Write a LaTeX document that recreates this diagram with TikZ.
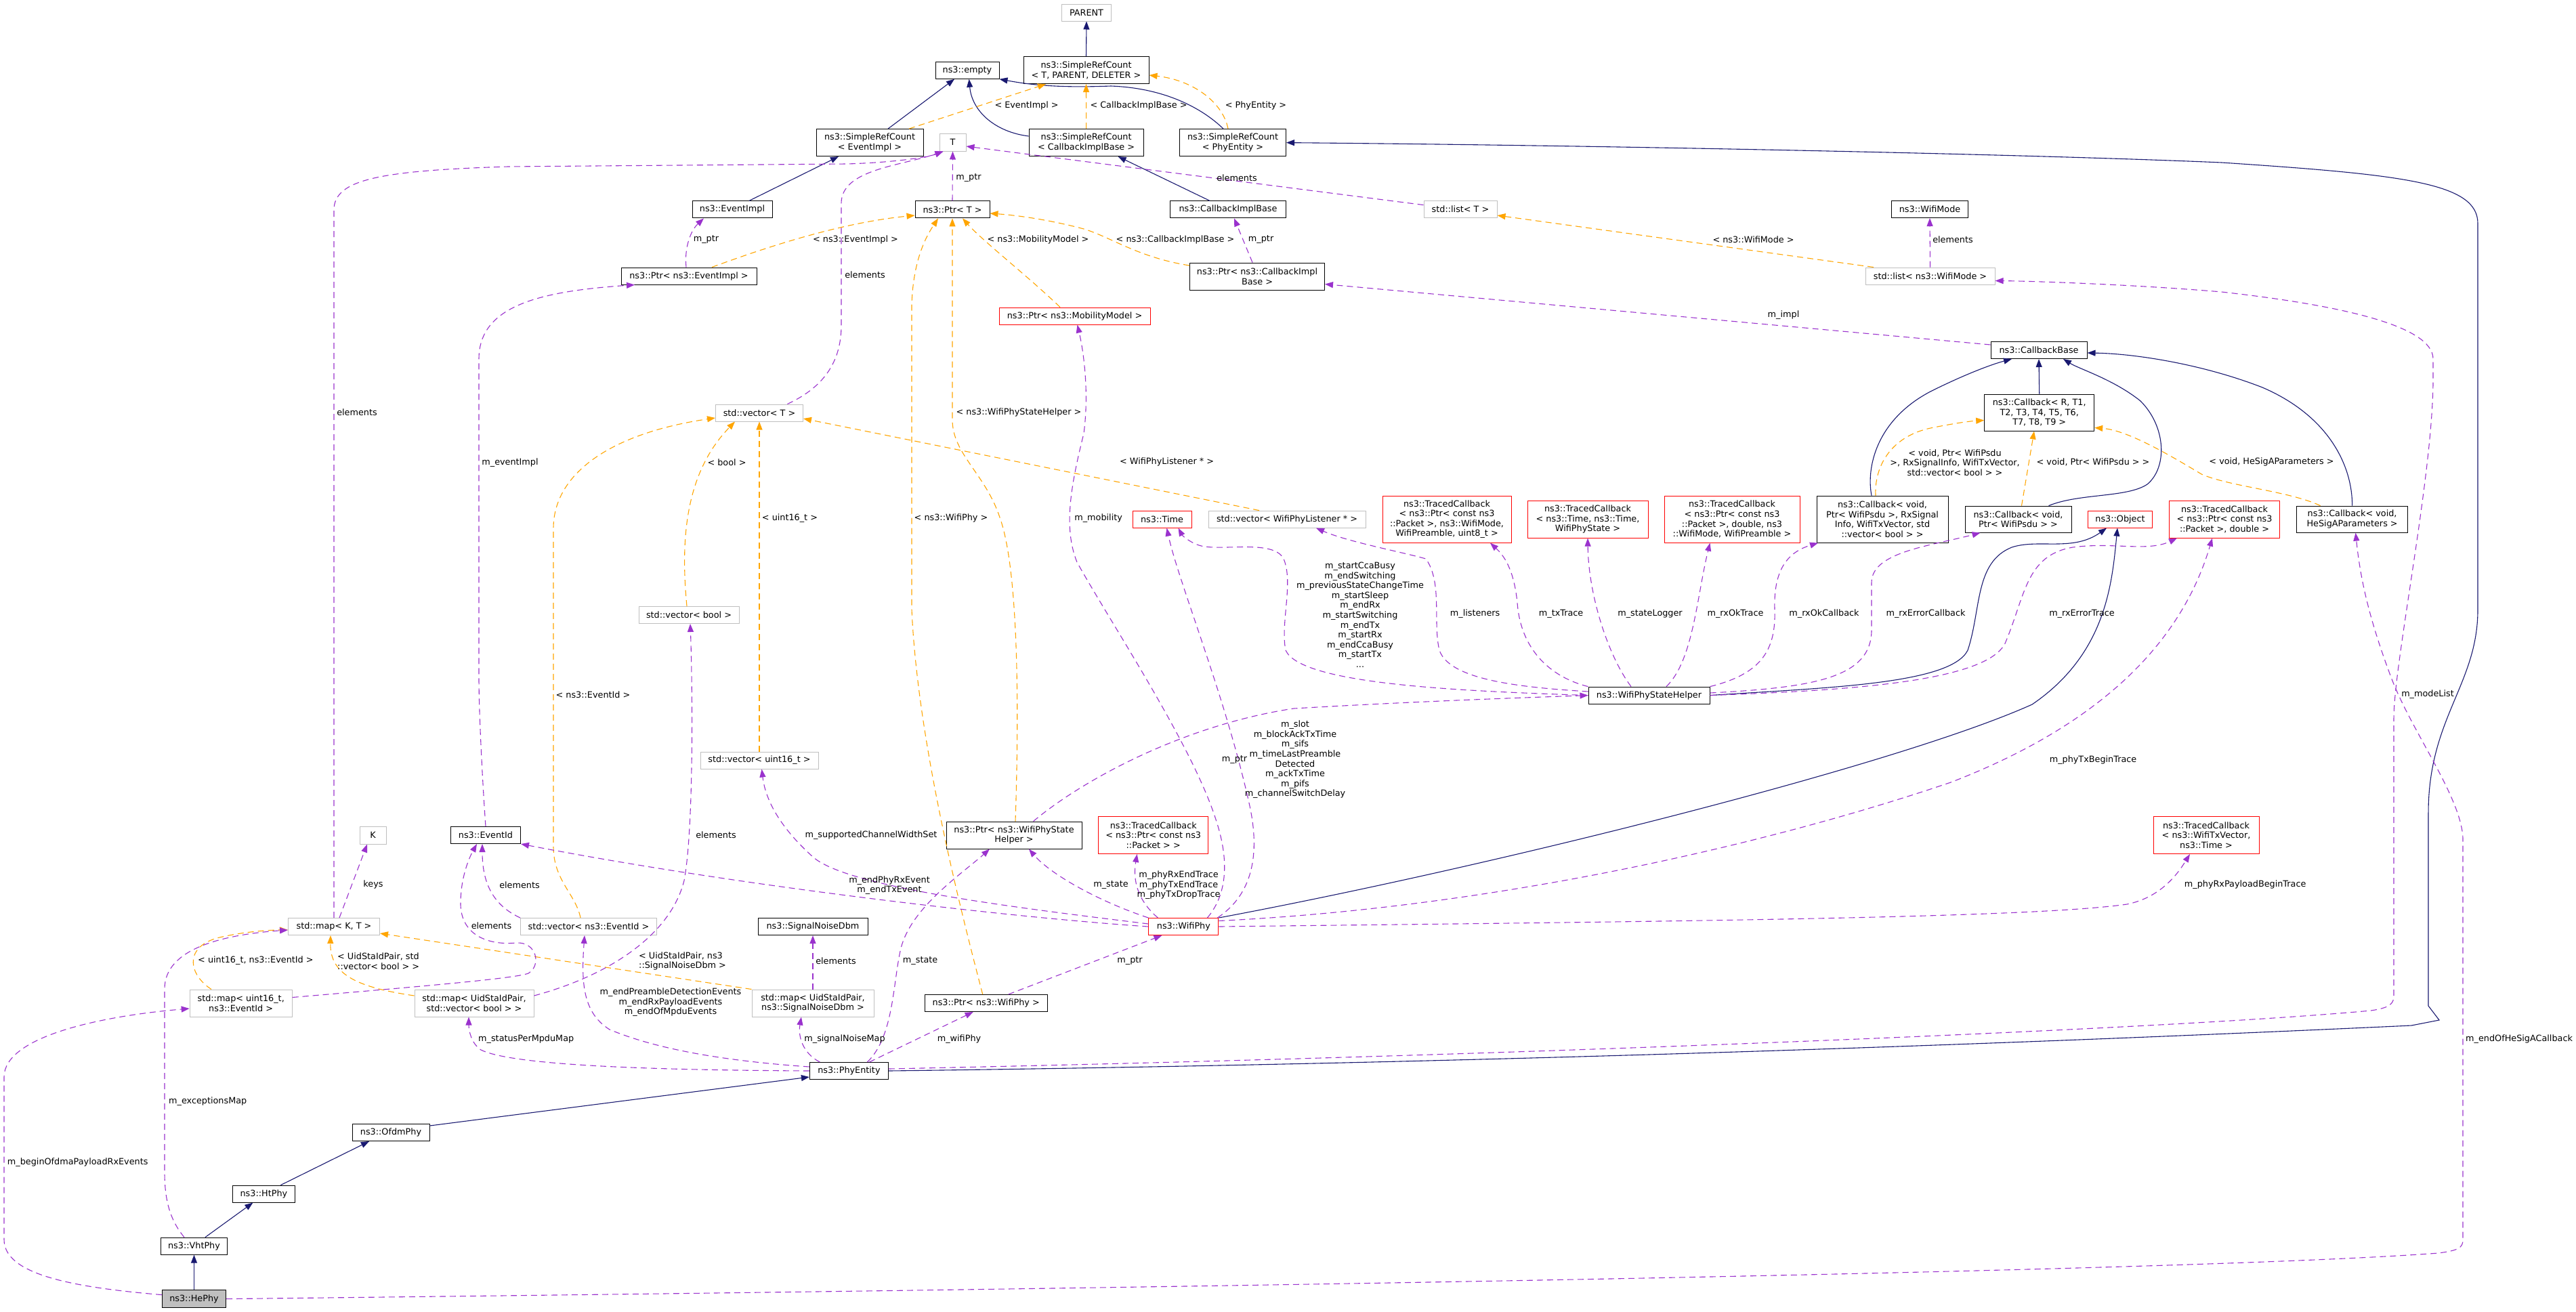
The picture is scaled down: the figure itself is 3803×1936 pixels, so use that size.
\documentclass[tikz,border=0pt]{standalone}
\usepackage{fontspec}
\setmainfont{DejaVu Sans}
\usetikzlibrary{arrows.meta}
\definecolor{inhc}{HTML}{191970}
\definecolor{usec}{HTML}{9A32CD}
\definecolor{tmplc}{HTML}{FFA500}
\definecolor{greyb}{HTML}{BFBFBF}
\definecolor{redb}{HTML}{FF0000}
\newcommand{\dfont}{\fontsize{12.8}{14.6}\selectfont}
\begin{document}
\begin{tikzpicture}[x=1pt,y=-1pt,
 box/.style={draw=black, line width=1pt, inner sep=0pt, align=center, font=\dfont, fill=white},
 ext/.style={box, draw=greyb},
 rbox/.style={box, draw=redb},
 inh/.style={draw=inhc, line width=1.1pt, -{Triangle[length=12pt,width=9pt]}},
 use/.style={draw=usec, line width=1.1pt, dash pattern=on 9pt off 6pt, -{Triangle[length=12pt,width=9pt]}},
 tmpl/.style={draw=tmplc, line width=1.1pt, dash pattern=on 9pt off 6pt, -{Triangle[length=12pt,width=9pt]}},
 lbl/.style={inner sep=0pt, align=center, font=\dfont}
]
\useasboundingbox (0,0) rectangle (3803,1936);
% ---------------- nodes
\node[ext, minimum width=73pt, minimum height=25pt] (parent) at (1604,18.5) {PARENT};
\node[box, minimum width=185pt, minimum height=40pt] (srcT) at (1603.5,103.6) {ns3::SimpleRefCount\\< T, PARENT, DELETER >};
\node[box, minimum width=94pt, minimum height=25pt] (empty) at (1428,103.8) {ns3::empty};
\node[box, minimum width=158pt, minimum height=40pt] (srcEv) at (1284,210.6) {ns3::SimpleRefCount\\< EventImpl >};
\node[ext, minimum width=39pt, minimum height=26pt] (T) at (1406.5,210) {T};
\node[box, minimum width=169pt, minimum height=40pt] (srcCb) at (1603.6,210.6) {ns3::SimpleRefCount\\< CallbackImplBase >};
\node[box, minimum width=157pt, minimum height=40pt] (srcPhy) at (1820,210.6) {ns3::SimpleRefCount\\< PhyEntity >};
\node[box, minimum width=118pt, minimum height=25pt] (evImpl) at (1081,309.4) {ns3::EventImpl};
\node[box, minimum width=110pt, minimum height=25pt] (ptrT) at (1406,309.4) {ns3::Ptr< T >};
\node[box, minimum width=171pt, minimum height=25pt] (cbImplBase) at (1813,309.4) {ns3::CallbackImplBase};
\node[ext, minimum width=108pt, minimum height=25pt] (listT) at (2156,309) {std::list< T >};
\node[box, minimum width=113pt, minimum height=25pt] (wifiMode) at (2849,309) {ns3::WifiMode};
\node[box, minimum width=200pt, minimum height=25pt] (ptrEv) at (1017,407.5) {ns3::Ptr< ns3::EventImpl >};
\node[box, minimum width=199pt, minimum height=40pt] (ptrCb) at (1856,408) {ns3::Ptr< ns3::CallbackImpl\\Base >};
\node[ext, minimum width=191pt, minimum height=25pt] (listWm) at (2849.5,407.5) {std::list< ns3::WifiMode >};
\node[rbox, minimum width=223pt, minimum height=25pt] (ptrMob) at (1586.5,466.5) {ns3::Ptr< ns3::MobilityModel >};
\node[box, minimum width=142pt, minimum height=25pt] (cbBase) at (3010,517) {ns3::CallbackBase};
\node[ext, minimum width=129pt, minimum height=25pt] (vecT) at (1121,609.5) {std::vector< T >};
\node[box, minimum width=162pt, minimum height=54pt] (cbGen) at (3010.7,609) {ns3::Callback< R, T1,\\T2, T3, T4, T5, T6,\\T7, T8, T9 >};
\node[rbox, minimum width=87pt, minimum height=25pt] (time) at (1715.5,766.6) {ns3::Time};
\node[ext, minimum width=232pt, minimum height=25pt] (vecListener) at (1900,766.6) {std::vector< WifiPhyListener * >};
\node[rbox, minimum width=190pt, minimum height=69pt] (tcTx) at (2136,766.6) {ns3::TracedCallback\\< ns3::Ptr< const ns3\\::Packet >, ns3::WifiMode,\\WifiPreamble, uint8\_t >};
\node[rbox, minimum width=178pt, minimum height=55pt] (tcState) at (2344,766.6) {ns3::TracedCallback\\< ns3::Time, ns3::Time,\\WifiPhyState >};
\node[rbox, minimum width=200pt, minimum height=69pt] (tcRxOk) at (2557,766.6) {ns3::TracedCallback\\< ns3::Ptr< const ns3\\::Packet >, double, ns3\\::WifiMode, WifiPreamble >};
\node[box, minimum width=194pt, minimum height=69pt] (cbRxOk) at (2779,766.6) {ns3::Callback< void,\\Ptr< WifiPsdu >, RxSignal\\Info, WifiTxVector, std\\::vector< bool > >};
\node[box, minimum width=157pt, minimum height=39pt] (cbRxErr) at (2979.5,766.6) {ns3::Callback< void,\\Ptr< WifiPsdu > >};
\node[rbox, minimum width=95.5pt, minimum height=25pt] (object) at (3130,766.6) {ns3::Object};
\node[rbox, minimum width=163pt, minimum height=55pt] (tcRxErr) at (3284,766.6) {ns3::TracedCallback\\< ns3::Ptr< const ns3\\::Packet >, double >};
\node[box, minimum width=164pt, minimum height=39pt] (cbHeSig) at (3472.6,766.6) {ns3::Callback< void,\\HeSigAParameters >};
\node[ext, minimum width=148pt, minimum height=25pt] (vecBool) at (1017,908) {std::vector< bool >};
\node[box, minimum width=179pt, minimum height=25pt] (wsh) at (2434.5,1026.6) {ns3::WifiPhyStateHelper};
\node[ext, minimum width=174pt, minimum height=25pt] (vecU16) at (1121,1122.5) {std::vector< uint16\_t >};
\node[ext, minimum width=39pt, minimum height=26pt] (K) at (550.5,1233) {K};
\node[box, minimum width=103pt, minimum height=25pt] (eventId) at (717,1233) {ns3::EventId};
\node[box, minimum width=200pt, minimum height=40pt] (ptrWsh) at (1497,1233) {ns3::Ptr< ns3::WifiPhyState\\Helper >};
\node[rbox, minimum width=162pt, minimum height=55pt] (tcPkt) at (1702.7,1233) {ns3::TracedCallback\\< ns3::Ptr< const ns3\\::Packet > >};
\node[rbox, minimum width=156pt, minimum height=55pt] (tcTxVec) at (3257,1233) {ns3::TracedCallback\\< ns3::WifiTxVector,\\ns3::Time >};
\node[ext, minimum width=135pt, minimum height=25pt] (mapKT) at (493,1368) {std::map< K, T >};
\node[ext, minimum width=201pt, minimum height=25pt] (vecEvId) at (869,1368) {std::vector< ns3::EventId >};
\node[box, minimum width=162pt, minimum height=25pt] (snDbm) at (1200,1368) {ns3::SignalNoiseDbm};
\node[rbox, minimum width=103pt, minimum height=25pt] (wifiPhy) at (1747.4,1368) {ns3::WifiPhy};
\node[ext, minimum width=151pt, minimum height=40pt] (mapU16) at (355.7,1481) {std::map< uint16\_t,\\ns3::EventId >};
\node[ext, minimum width=176pt, minimum height=40pt] (mapStatus) at (700,1481) {std::map< UidStaIdPair,\\std::vector< bool > >};
\node[ext, minimum width=180pt, minimum height=40pt] (mapSn) at (1200,1481) {std::map< UidStaIdPair,\\ns3::SignalNoiseDbm >};
\node[box, minimum width=181pt, minimum height=25pt] (ptrWifiPhy) at (1455.7,1481) {ns3::Ptr< ns3::WifiPhy >};
\node[box, minimum width=116pt, minimum height=25pt] (phyEntity) at (1253.4,1581) {ns3::PhyEntity};
\node[box, minimum width=114pt, minimum height=25pt] (ofdm) at (577,1672) {ns3::OfdmPhy};
\node[box, minimum width=92pt, minimum height=25pt] (ht) at (389.4,1762.6) {ns3::HtPhy};
\node[box, minimum width=98pt, minimum height=25pt] (vht) at (286.5,1839.6) {ns3::VhtPhy};
\node[box, fill=greyb, minimum width=94pt, minimum height=26pt] (he) at (286.5,1917.6) {ns3::HePhy};
% ---------------- inheritance
\draw[inh] (srcT.north) -- (parent.south);
\draw[inh] ([xshift=27pt]srcEv.north) -- ([xshift=-19pt]empty.south);
\draw[inh] ([yshift=9.6pt]srcCb.west) .. controls (1470,195) and (1435,165) .. ([xshift=2.6pt]empty.south);
\draw[inh] ([xshift=-14pt]srcPhy.north) .. controls (1775,160) and (1720,130) .. (1640,127) .. controls (1560,130) and (1520,125) .. (empty.south east);
\draw[inh] ([xshift=25pt]evImpl.north) -- ([xshift=-46pt]srcEv.south);
\draw[inh] ([xshift=-27pt]cbImplBase.north) -- ([xshift=47pt]srcCb.south);
\draw[inh] (phyEntity.east) .. controls (2200,1570) and (3000,1540) .. (3560,1514) -- (3601,1506) -- (3585,1485) -- (3585,1200) .. controls (3585,1060) and (3658,1010) .. (3658,900) -- (3658,330) .. controls (3658,270) and (3550,258) .. (3280,240) .. controls (3000,228) and (2400,215) .. (srcPhy.east);
\draw[inh] ([yshift=10pt]ofdm.east) -- ([yshift=-9pt]phyEntity.west);
\draw[inh] ([xshift=25pt]ht.north) -- ([xshift=-32pt]ofdm.south);
\draw[inh] ([xshift=16.5pt]vht.north) -- ([xshift=-16pt]ht.south);
\draw[inh] (he.north) -- (vht.south);
\draw[inh] (wifiPhy.north east) .. controls (2200,1280) and (2800,1130) .. (3000,1040) .. controls (3110,965) and (3118,860) .. ([xshift=-4pt]object.south);
\draw[inh] (wsh.east) .. controls (2700,1015) and (2880,1010) .. (2905,960) .. controls (2925,900) and (2915,830) .. (2970,808) .. controls (3010,795) and (3060,815) .. ([xshift=-20pt]object.south);
\draw[inh] ([xshift=45pt]cbRxErr.north) .. controls (3070,728) and (3140,735) .. (3170,715) .. controls (3200,690) and (3198,630) .. (3160,592) .. controls (3120,560) and (3070,545) .. ([xshift=36pt]cbBase.south);
\draw[inh] (cbHeSig.north) .. controls (3473,690) and (3440,615) .. (3340,572) .. controls (3250,537) and (3150,522) .. ([yshift=-4pt]cbBase.east);
\draw[inh] (cbGen.north) -- (cbBase.south);
\draw[inh] ([xshift=-16pt]cbRxOk.north) .. controls (2755,690) and (2770,620) .. (2850,578) .. controls (2900,553) and (2940,538) .. ([xshift=-40pt]cbBase.south);
% ---------------- templates
\draw[tmpl] ([xshift=58pt]srcEv.north) -- ([xshift=-59.5pt]srcT.south);
\draw[tmpl] (srcCb.north) -- (srcT.south);
\draw[tmpl] ([xshift=-7pt]srcPhy.north) .. controls (1805,150) and (1760,118) .. ([yshift=-7.4pt]srcT.east);
\draw[tmpl] ([xshift=34pt]ptrEv.north) .. controls (1150,358) and (1250,328) .. ([yshift=-8.6pt]ptrT.west);
\draw[tmpl] ([yshift=16pt]ptrCb.west) .. controls (1680,380) and (1640,350) .. (1600,338) .. controls (1540,322) and (1490,317) .. ([yshift=-5.6pt]ptrT.east);
\draw[tmpl] ([xshift=-21.5pt]ptrMob.north) .. controls (1520,410) and (1450,355) .. ([xshift=15pt]ptrT.south);
\draw[tmpl] ([xshift=2pt]ptrWsh.north) .. controls (1506,1000) and (1500,830) .. (1476,764) .. controls (1455,700) and (1406,670) .. (1406,620) -- (ptrT.south);
\draw[tmpl] ([xshift=-5pt]ptrWifiPhy.north) .. controls (1420,1350) and (1355,1100) .. (1346,900) -- (1346,450) .. controls (1348,380) and (1370,345) .. ([xshift=-21pt]ptrT.south);
\draw[tmpl] ([xshift=-41pt]vecListener.north) -- ([yshift=-8.5pt]vecT.east);
\draw[tmpl] ([xshift=-3pt]vecBool.north) .. controls (1005,800) and (1010,700) .. ([xshift=-36pt]vecT.south);
\draw[tmpl] (vecU16.north) -- (vecT.south);
\draw[tmpl] ([xshift=-12pt]vecEvId.north) .. controls (850,1320) and (817,1300) .. (817,1250) -- (817,780) .. controls (817,700) and (900,640) .. ([yshift=-7.5pt]vecT.west);
\draw[tmpl] ([xshift=-43.7pt]mapU16.north) .. controls (280,1440) and (270,1400) .. (320,1385) .. controls (360,1375) and (400,1373) .. ([yshift=-5pt]mapKT.west);
\draw[tmpl] ([yshift=11pt]mapStatus.west) .. controls (530,1458) and (487,1440) .. ([xshift=-5pt]mapKT.south);
\draw[tmpl] (mapSn.north west) -- ([yshift=-10pt]mapKT.east);
\draw[tmpl] ([xshift=-83.5pt]listWm.north) -- ([yshift=-9pt]listT.east);
\draw[tmpl] ([xshift=-10pt]cbRxOk.north) .. controls (2767,690) and (2790,645) .. (2850,632) .. controls (2880,626) and (2905,622) .. ([yshift=-11.5pt]cbGen.west);
\draw[tmpl] ([xshift=5pt]cbRxErr.north) -- ([xshift=-7.7pt]cbGen.south);
\draw[tmpl] ([xshift=-47pt]cbHeSig.north) .. controls (3380,725) and (3290,718) .. (3250,700) .. controls (3200,670) and (3140,635) .. ([yshift=5pt]cbGen.south east);
% ---------------- usage
\draw[use] (ptrT.north) -- (T.south);
\draw[use] ([xshift=-4pt]ptrEv.north) .. controls (1010,365) and (1020,340) .. ([xshift=-42pt]evImpl.south);
\draw[use] ([xshift=-7pt]ptrCb.north) -- ([xshift=9pt]cbImplBase.south);
\draw[use] ([xshift=41.4pt]vecT.north) .. controls (1220,570) and (1242,530) .. (1242,480) -- (1242,300) .. controls (1242,250) and (1330,245) .. ([xshift=-14pt]T.south);
\draw[use] ([yshift=6.4pt]listT.west) -- ([yshift=-6pt]T.east);
\draw[use] (listWm.north) -- (wifiMode.south);
\draw[use] (mapKT.north) -- (493,310) .. controls (493,265) and (560,252) .. (750,246) -- (1250,242) .. controls (1320,240) and (1370,232) .. ([xshift=-14pt]T.south);
\draw[use] ([xshift=8pt]mapKT.north) -- ([xshift=-8.5pt]K.south);
\draw[use] ([yshift=8.5pt]mapU16.east) .. controls (600,1458) and (760,1445) .. (780,1437) .. controls (800,1425) and (792,1390) .. (762,1392) .. controls (720,1396) and (678,1380) .. (680,1330) .. controls (681,1290) and (695,1262) .. ([xshift=-13pt]eventId.south);
\draw[use] (vecEvId.north west) .. controls (725,1335) and (712,1300) .. ([xshift=-5pt]eventId.south);
\draw[use] ([yshift=11pt]mapStatus.east) .. controls (900,1440) and (990,1380) .. (1010,1300) .. controls (1025,1220) and (1022,1000) .. ([xshift=2pt]vecBool.south);
\draw[use] (eventId.north) .. controls (712,1150) and (707,1050) .. (707,1000) -- (707,530) .. controls (707,450) and (800,430) .. ([xshift=-80pt]ptrEv.south);
\draw[use] (mapSn.north) -- (snDbm.south);
\draw[use] ([xshift=-43pt]phyEntity.north) .. controls (1185,1555) and (1178,1530) .. ([xshift=-17pt]mapSn.south);
\draw[use] ([xshift=30pt]phyEntity.north) -- ([xshift=-19pt]ptrWifiPhy.south);
\draw[use] ([xshift=27pt]phyEntity.north) .. controls (1320,1530) and (1318,1450) .. (1330,1400) .. controls (1345,1340) and (1420,1290) .. ([xshift=-36pt]ptrWsh.south);
\draw[use] (phyEntity.west) .. controls (1000,1580) and (760,1575) .. (710,1550) .. controls (695,1540) and (692,1520) .. ([xshift=-8pt]mapStatus.south);
\draw[use] ([yshift=6pt]phyEntity.west) .. controls (1050,1565) and (960,1545) .. (900,1520) .. controls (860,1495) and (858,1450) .. ([xshift=-6pt]vecEvId.south);
\draw[use] ([yshift=6pt]he.west) .. controls (100,1900) and (6,1880) .. (6,1830) -- (6,1590) .. controls (6,1530) and (150,1500) .. ([yshift=-8pt]mapU16.west);
\draw[use] ([xshift=-14.5pt]vht.north) .. controls (250,1800) and (243,1770) .. (243,1730) -- (243,1460) .. controls (243,1400) and (330,1380) .. ([yshift=-5pt]mapKT.west);
\draw[use] ([yshift=4pt]wifiPhy.west) .. controls (1500,1340) and (1250,1310) .. (1200,1265) .. controls (1150,1220) and (1130,1180) .. ([xshift=3.5pt]vecU16.south);
\draw[use] (wifiPhy.west) .. controls (1500,1355) and (1100,1310) .. (eventId.south east);
\draw[use] (wifiPhy.north west) .. controls (1620,1330) and (1550,1290) .. ([xshift=22pt]ptrWsh.south);
\draw[use] ([xshift=-38pt]wifiPhy.north) .. controls (1680,1330) and (1672,1300) .. ([xshift=-24pt]tcPkt.south);
\draw[use] ([xshift=-2pt]wifiPhy.north east) .. controls (1850,1320) and (1860,1260) .. (1845,1190) .. controls (1810,1030) and (1740,860) .. ([xshift=7pt]time.south);
\draw[use] ([xshift=35pt]wifiPhy.north) .. controls (1812,1320) and (1815,1270) .. (1795,1210) .. controls (1760,1100) and (1640,920) .. (1590,830) .. controls (1570,780) and (1580,720) .. (1600,640) .. controls (1608,580) and (1600,520) .. ([xshift=4pt]ptrMob.south);
\draw[use] ([xshift=33pt]ptrWifiPhy.north) -- ([xshift=-32pt]wifiPhy.south);
\draw[use] ([xshift=28.5pt]ptrWsh.north) .. controls (1600,1150) and (1750,1070) .. (1910,1046) .. controls (2100,1035) and (2250,1030) .. (wsh.west);
\draw[use] (wsh.west) .. controls (2150,1020) and (1920,1010) .. (1898,960) .. controls (1890,920) and (1910,860) .. (1895,825) .. controls (1880,795) and (1800,815) .. (1770,805) .. controls (1755,800) and (1745,790) .. ([xshift=24pt]time.south);
\draw[use] ([yshift=5.6pt]wsh.west) .. controls (2250,1015) and (2140,1005) .. (2125,960) .. controls (2115,920) and (2130,860) .. (2105,825) .. controls (2070,815) and (1990,800) .. ([xshift=43pt]vecListener.south);
\draw[use] (wsh.north west) .. controls (2290,1000) and (2245,960) .. (2240,890) .. controls (2235,840) and (2220,820) .. ([xshift=64pt]tcTx.south);
\draw[use] ([xshift=-26.5pt]wsh.north) .. controls (2375,970) and (2345,880) .. (tcState.south);
\draw[use] ([xshift=25.5pt]wsh.north) .. controls (2500,975) and (2505,880) .. ([xshift=-32.5pt]tcRxOk.south);
\draw[use] (wsh.north east) .. controls (2600,995) and (2622,960) .. (2620,900) .. controls (2618,840) and (2640,815) .. ([xshift=-95pt]cbRxOk.south);
\draw[use] ([yshift=3.6pt]wsh.east) .. controls (2680,1015) and (2763,1000) .. (2763,930) -- (2763,860) .. controls (2763,815) and (2850,806) .. ([xshift=-56pt]cbRxErr.south);
\draw[use] (wsh.east) .. controls (2700,1020) and (2930,1010) .. (2960,950) .. controls (2990,880) and (2990,820) .. (3060,808) .. controls (3120,800) and (3170,815) .. ([xshift=-70pt]tcRxErr.south);
\draw[use] ([yshift=8.5pt]wifiPhy.east) .. controls (2200,1340) and (2600,1250) .. (2880,1155) .. controls (3100,1070) and (3220,950) .. ([xshift=-18pt]tcRxErr.south);
\draw[use] (wifiPhy.east) .. controls (2500,1360) and (3000,1355) .. (3140,1335) .. controls (3190,1325) and (3215,1290) .. ([xshift=-24pt]tcTxVec.south);
\draw[use] ([yshift=3pt]phyEntity.east) .. controls (2200,1560) and (3200,1520) .. (3500,1492) .. controls (3528,1488) and (3534,1482) .. (3534,1470) -- (3534,1060) .. controls (3534,980) and (3592,700) .. (3592,560) -- (3592,530) .. controls (3592,480) and (3450,450) .. (3280,431) .. controls (3150,420) and (3000,415) .. ([yshift=-7pt]listWm.east);
\draw[use] (he.east) .. controls (1500,1905) and (3200,1880) .. (3600,1850) .. controls (3630,1846) and (3636,1842) .. (3636,1830) -- (3636,1240) .. controls (3636,1180) and (3560,1080) .. (3530,1000) .. controls (3500,920) and (3485,860) .. ([xshift=5pt]cbHeSig.south);
\draw[use] ([yshift=8pt]cbBase.west) -- ([yshift=-11.5pt]ptrCb.east);
% ---------------- labels
\node[lbl] (lA1) at (1515.6,156.3) {< EventImpl >};
\node[lbl] (lA2) at (1681,156.3) {< CallbackImplBase >};
\node[lbl] (lA3) at (1854,156.3) {< PhyEntity >};
\node[lbl] (lA4) at (1430,262.4) {m\_ptr};
\node[lbl] (lA5) at (1826,262.4) {elements};
\node[lbl] (lA6) at (1042.5,353.6) {m\_ptr};
\node[lbl] (lA7) at (1263,353.6) {< ns3::EventImpl >};
\node[lbl] (lA8) at (1532.5,353.6) {< ns3::MobilityModel >};
\node[lbl] (lA9) at (1735,353.6) {< ns3::CallbackImplBase >};
\node[lbl] (lA10) at (1861.6,353.6) {m\_ptr};
\node[lbl] (lA11) at (1277,406) {elements};
\node[lbl] (lA12) at (1504,608.5) {< ns3::WifiPhyStateHelper >};
\node[lbl] (lA13) at (2883,353.6) {elements};
\node[lbl] (lA14) at (2588.5,353.6) {< ns3::WifiMode >};
\node[lbl] (lA15) at (2633,465.5) {m\_impl};
\node[lbl] (lA16) at (527,608.5) {elements};
\node[lbl] (lA17) at (753,682.7) {m\_eventImpl};
\node[lbl] (lA18) at (875.5,1025.5) {< ns3::EventId >};
\node[lbl] (lA19) at (1073,682.3) {< bool >};
\node[lbl] (lA20) at (1166,765) {< uint16\_t >};
\node[lbl] (lA21) at (1404,765) {< ns3::WifiPhy >};
\node[lbl] (lA22) at (1621.6,765) {m\_mobility};
\node[lbl] (lA23) at (1722.6,682.3) {< WifiPhyListener * >};
\node[lbl] (lA24) at (1057,1232.8) {elements};
\node[lbl] (lA25) at (1286,1232.8) {m\_supportedChannelWidthSet};
\node[lbl] (lA26) at (1912,1121.4) {m\_slot\\m\_blockAckTxTime\\m\_sifs\\m\_timeLastPreamble\\Detected\\m\_ackTxTime\\m\_pifs\\m\_channelSwitchDelay};
\node[lbl] (lA27) at (1822.6,1121) {m\_ptr};
\node[lbl] (lA28) at (2008,907.8) {m\_startCcaBusy\\m\_endSwitching\\m\_previousStateChangeTime\\m\_startSleep\\m\_endRx\\m\_startSwitching\\m\_endTx\\m\_startRx\\m\_endCcaBusy\\m\_startTx\\...};
\node[lbl] (lA29) at (2177.6,906.5) {m\_listeners};
\node[lbl] (lA30) at (2304.6,906.5) {m\_txTrace};
\node[lbl] (lA31) at (2436,906.5) {m\_stateLogger};
\node[lbl] (lA32) at (2562,906.5) {m\_rxOkTrace};
\node[lbl] (lA33) at (2693,906.5) {m\_rxOkCallback};
\node[lbl] (lA34) at (2843,906.5) {m\_rxErrorCallback};
\node[lbl] (lA35) at (3073.5,906.5) {m\_rxErrorTrace};
\node[lbl] (lA36) at (2886,683) {< void, Ptr< WifiPsdu\\>, RxSignalInfo, WifiTxVector,\\std::vector< bool > >};
\node[lbl] (lA37) at (3090,682.3) {< void, Ptr< WifiPsdu > >};
\node[lbl] (lA38) at (3353.5,682.3) {< void, HeSigAParameters >};
\node[lbl] (lA39) at (3090,1121.7) {m\_phyTxBeginTrace};
\node[lbl] (lA40) at (3584,1025.5) {m\_modeList};
\node[lbl] (lA41) at (3314.6,1306.4) {m\_phyRxPayloadBeginTrace};
\node[lbl,anchor=west] (lA42) at (3640,1534.4) {m\_endOfHeSigACallback};
\node[lbl] (lA43) at (551,1306.4) {keys};
\node[lbl] (lA44) at (767,1306.4) {elements};
\node[lbl] (lA45) at (725.5,1366.6) {elements};
\node[lbl] (lA46) at (377.4,1418.5) {< uint16\_t, ns3::EventId >};
\node[lbl,align=left,anchor=west] (lA47) at (498,1419) {< UidStaIdPair, std\\::vector< bool > >};
\node[lbl,align=left,anchor=west] (lA48) at (943,1419) {< UidStaIdPair, ns3\\::SignalNoiseDbm >};
\node[lbl] (lA49) at (990,1480) {m\_endPreambleDetectionEvents\\m\_endRxPayloadEvents\\m\_endOfMpduEvents};
\node[lbl] (lA50) at (776.7,1534.4) {m\_statusPerMpduMap};
\node[lbl] (lA51) at (306.7,1626) {m\_exceptionsMap};
\node[lbl] (lA52) at (114.7,1716.4) {m\_beginOfdmaPayloadRxEvents};
\node[lbl] (lA53) at (1234,1418.5) {elements};
\node[lbl] (lA54) at (1358.6,1418.5) {m\_state};
\node[lbl] (lA55) at (1668,1418.5) {m\_ptr};
\node[lbl] (lA56) at (1247,1534.4) {m\_signalNoiseMap};
\node[lbl] (lA57) at (1416,1534.4) {m\_wifiPhy};
\node[lbl] (lA58) at (1313,1307) {m\_endPhyRxEvent\\m\_endTxEvent};
\node[lbl] (lA59) at (1640,1306.4) {m\_state};
\node[lbl] (lA60) at (1740,1307) {m\_phyRxEndTrace\\m\_phyTxEndTrace\\m\_phyTxDropTrace};
\end{tikzpicture}
\end{document}
